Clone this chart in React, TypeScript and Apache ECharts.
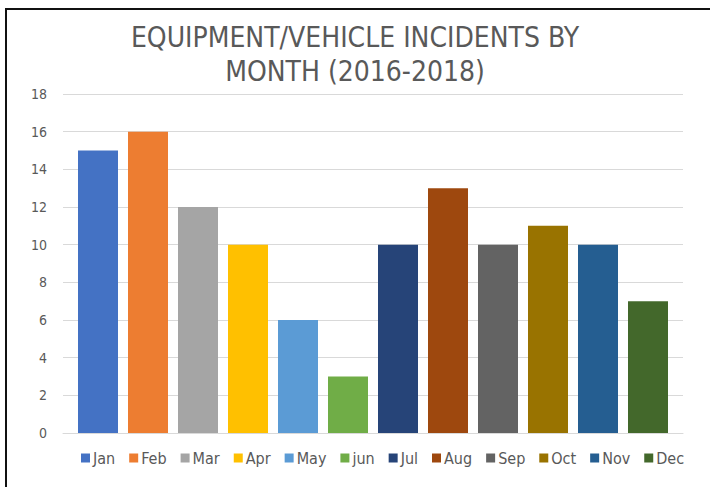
import React, { useEffect, useRef } from "react";
import * as echarts from "echarts";

const months = ["Jan", "Feb", "Mar", "Apr", "May", "jun", "Jul", "Aug", "Sep", "Oct", "Nov", "Dec"];
const incidents = [15, 16, 12, 10, 6, 3, 10, 13, 10, 11, 10, 7];
const colors = ["#4472C4", "#ED7D31", "#A5A5A5", "#FFC000", "#5B9BD5", "#70AD47", "#264478", "#9E480E", "#636363", "#997300", "#255E91", "#43682B"];
const titleText = "EQUIPMENT/VEHICLE INCIDENTS BY\nMONTH (2016-2018)";

const FONT = "'Liberation Sans Narrow', 'DejaVu Sans Condensed', 'Open Sans', sans-serif";

export default function App() {
  const ref = useRef<HTMLDivElement>(null);
  useEffect(() => {
    if (!ref.current) return;
    const chart = echarts.init(ref.current, undefined, { renderer: "svg" });
    chart.setOption({
      animation: false,
      backgroundColor: "#ffffff",
      textStyle: { fontFamily: FONT },
      title: {
        text: titleText,
        left: "center",
        top: 15,
        textStyle: { fontFamily: FONT, fontSize: 28, fontWeight: "normal", color: "#595959", lineHeight: 34 },
      },
      legend: {
        bottom: 16,
        left: 76,
        icon: "rect",
        itemWidth: 9,
        itemHeight: 9,
        itemGap: 14,
        textStyle: { fontFamily: FONT, fontSize: 16, color: "#595959", padding: [0, 0, 0, -2] },
        data: months,
      },
      grid: { left: 63, right: 27, top: 94, bottom: 54, containLabel: false },
      xAxis: {
        type: "category",
        data: [""],
        axisTick: { show: false },
        axisLabel: { show: false },
        axisLine: { show: true, lineStyle: { color: "#d9d9d9", width: 1 } },
      },
      yAxis: {
        type: "value",
        min: 0,
        max: 18,
        interval: 2,
        axisLine: { show: false },
        axisTick: { show: false },
        axisLabel: { color: "#595959", fontSize: 14, fontFamily: FONT, margin: 16 },
        splitLine: { lineStyle: { color: "#d9d9d9", width: 1 } },
      },
      series: months.map((m, i) => ({
        name: m,
        type: "bar",
        data: [incidents[i]],
        barWidth: 40,
        barGap: "25%",
        itemStyle: { color: colors[i] },
      })),
      graphic: [
        {
          type: "rect",
          shape: { x: 6, y: 9, width: 720, height: 500 },
          style: { fill: "none", stroke: "#111", lineWidth: 2 },
          z: 100,
        },
      ],
    });
    return () => chart.dispose();
  }, []);
  return <div ref={ref} style={{ position: "fixed", left: 0, top: 0, width: 710, height: 487 }} />;
}
